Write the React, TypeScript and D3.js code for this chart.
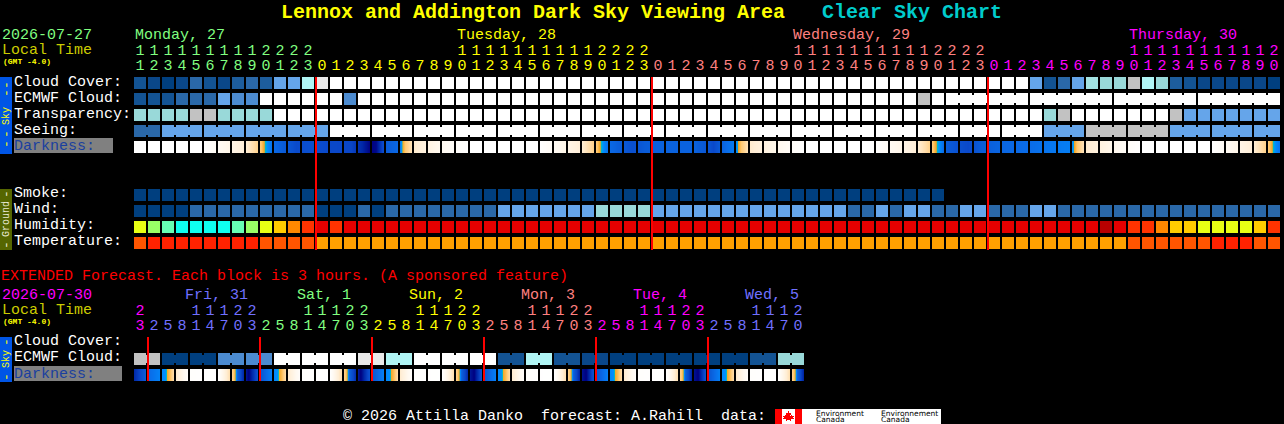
import React from "react";
import * as d3 from "d3";

// Hourly forecast, 82 blocks starting at 11:00 local. Sky values are percent-like levels.
const cloudCover = [10,5,0,5,20,10,5,15,20,15,40,40,60,85,
  100,100,100,100,100,100,100,100,100,100,100,100,100,100,100,100,100,100,100,100,100,100,100,100,100,
  100,100,100,100,100,100,100,100,100,100,100,100,100,100,100,100,100,100,100,100,100,100,100,100,100,
  40,10,20,40,55,50,50,70,60,50,15,10,5,5,5,5,5,0];
const ecmwfCloud = [10,10,10,20,20,20,40,30,30,100,100,100,100,100,100,30,
  100,100,100,100,100,100,100,100,100,100,100,100,100,100,100,100,100,100,100,100,100,100,100,100,
  100,100,100,100,100,100,100,100,100,100,100,100,100,100,100,100,70,
  100,100,100,100,100,100,100,100,100,100,100,100,100,100,100,100,100,100,100,100,100,100,100,100,100];
const transparency = [50,50,50,50,70,70,50,50,50,50,
  100,100,100,100,100,100,100,100,100,100,100,100,100,100,100,100,100,100,100,100,100,100,100,100,100,
  100,100,100,100,100,100,100,100,100,100,100,100,100,100,100,100,100,100,100,100,100,100,100,100,100,100,100,100,100,100,
  50,70,100,100,100,100,100,100,100,70,40,40,40,40,40,40,40];
const seeing = [20,20,40,40,40,40,40,40,40,40,40,40,40,40,
  100,100,100,100,100,100,100,100,100,100,100,100,100,100,100,100,100,100,100,100,100,100,100,100,100,
  100,100,100,100,100,100,100,100,100,100,100,100,100,100,100,100,100,100,100,100,100,100,100,100,100,100,
  40,40,40,70,70,70,70,70,70,40,40,40,40,40,40,40,40];
const smoke = [0,0,0,0,0,0,0,0,0,0,0,0,0,0,0,0,0,0,0,0,0,0,0,0,0,0,0,0,0,
  0,0,0,0,0,0,0,0,0,0,0,0,0,0,0,0,0,0,0,0,0,0,0,0,0,0,0,0,0];
const wind = [0,0,0,0,20,20,20,20,20,20,20,20,20,0,0,0,20,0,20,20,20,20,20,20,20,20,
  40,40,40,40,40,40,40,50,50,50,50,40,40,40,40,40,40,40,40,40,40,40,40,40,40,
  20,20,40,20,40,40,20,20,40,40,20,20,20,40,40,20,20,20,20,20,20,20,20,20,20,20,20,20,20,20,20];
const humidity = [55,50,45,40,40,40,40,45,50,55,60,65,70,80,70,
  80,80,80,80,80,80,80,80,80,80,80,80,80,80,80,80,80,80,80,80,80,80,80,80,80,80,80,
  80,80,80,80,80,80,80,80,80,80,80,80,80,80,80,80,80,80,80,80,80,80,80,80,80,80,80,
  95,80,70,70,65,60,60,55,55,55,55,60,70];
const temperature = [27,30,30,30,30,30,30,30,30,27,27,27,27,
  23,23,23,23,23,23,23,23,23,23,23,23,23,23,23,23,23,23,23,23,23,23,23,23,23,23,23,23,23,23,23,23,
  23,23,23,23,23,23,23,23,23,23,23,23,23,23,23,23,23,23,23,23,23,23,23,23,23,23,
  27,27,27,27,27,27,30,30,30,27,27];

// Darkness as limiting magnitude, sampled at fractional block positions.
const darkTimes = [0,4.9,6,7,8,8.9,9.3,9.36,9.42,9.6,10,11,11.6,12.5,14,15.5,16.3,16.9,17.3,18,18.95,19.12,19.2,19.6,20,21,22,23,24,
  28.9,30,31,32,32.9,33.3,33.36,33.42,33.6,34,35,35.6,36.5,38,40,41,41.4,42,42.95,43.1,43.18,43.6,44,45,46,47,48,
  52.9,54,55,56,56.9,57.3,57.36,57.42,57.6,58,59,59.6,60.5,62,64,65.5,66.95,67.1,67.18,67.6,68,69,70,71,72,
  76.9,78,79,80,80.9,81.3,81.36,81.42,81.6,82];
const darkMags = [-4,-4,-3.3,-2.7,-2,-0.4,0.5,0.8,1.2,1.8,2.6,3.2,3.8,3.6,3.9,4,5,6,5.8,3,2.6,1.4,0.5,-0.6,-1.8,-2.5,-3.2,-3.7,-4,
  -4,-3.3,-2.7,-2,-0.4,0.5,0.8,1.2,1.8,2.6,3.1,3.6,3,2.8,2.8,3.3,3.9,2.8,2,1.4,0.5,-0.6,-1.8,-2.4,-3,-3.6,-4,
  -4,-3.3,-2.7,-2,-0.4,0.5,0.8,1.2,1.8,3,3.6,3.9,3,2.7,2.5,2.2,2,1.4,0.5,-0.6,-1.8,-2.4,-3,-3.6,-4,
  -4,-3.3,-2.7,-2,-0.4,0.5,0.8,1.2,1.8,2.6];

// Extended darkness, one block is 3 hours.
const extDarkTimes = [0,0.5,1,1.95,2.28,2.36,2.6,3,3.9,6,6.9,7.2,7.28,7.36,7.8,8.2,8.8,9.95,10.28,10.36,10.6,11,11.9,14,14.9,15.2,15.28,15.36,15.8,16.2,16.8,17.95,18.28,18.36,18.6,19,19.9,22,22.9,23.2,23.28,23.36,23.9,24.3,24.8,25.95,26.28,26.36,26.6,27,27.9,30,30.9,31.2,31.28,31.36,31.9,32.3,32.8,33.95,34.28,34.36,34.6,35,35.9,38,38.9,39.2,39.28,39.36,39.9,40.3,40.8,41.95,42.28,42.36,42.6,43,43.9,46,46.9,47.2,47.28,47.36,48];
const extDarkMags = [5,3.8,2.6,1.8,1.5,0.5,0.1,-1.8,-3.8,-4,-1,0.3,0.9,2.6,4.8,6,3.6,1.8,1.5,0.5,0.1,-1.8,-3.8,-4,-1,0.3,0.9,2.6,4.6,6,3.6,1.8,1.5,0.5,0.1,-1.8,-3.8,-4,-1,0.3,0.9,2.6,5.2,6,3.6,1.8,1.5,0.5,0.1,-1.8,-3.8,-4,-1,0.3,0.9,2.6,5.4,6,3.6,1.8,1.5,0.5,0.1,-1.8,-3.8,-4,-1,0.3,0.9,2.6,5.4,6,3.6,1.8,1.5,0.5,0.1,-1.8,-3.8,-4,-1,0.3,0.9,2.6,6];

const extEcmwf = [70,70,0,0,0,0,30,30,30,30,100,100,100,100,100,100,85,85,60,60,100,100,100,100,100,100,10,10,60,60,10,10,5,5,0,0,0,0,0,0,0,0,0,0,10,10,50,50];

const dayColors = ["#80ff80", "#ffff00", "#ff8080", "#ff00ff", "#7070ff"];
const mainHours = [11,12,13,14,15,16,17,18,19,20,21,22,23,0,1,2,3,4,5,6,7,8,9,10,11,12,13,14,15,16,17,18,19,20,21,22,23,
  0,1,2,3,4,5,6,7,8,9,10,11,12,13,14,15,16,17,18,19,20,21,22,23,0,1,2,3,4,5,6,7,8,9,10,11,12,13,14,15,16,17,18,19,20];
const extHours = [23,2,5,8,11,14,17,20,23,2,5,8,11,14,17,20,23,2,5,8,11,14,17,20,23,2,5,8,11,14,17,20,23,2,5,8,11,14,17,20,23,2,5,8,11,14,17,20];
const mainDayLabels = ["Monday, 27", "Tuesday, 28", "Wednesday, 29", "Thursday, 30"];
const mainDayCols = [0, 23, 47, 71];
const mainDayStarts = [0, 13, 37, 61];
const extDayLabels = ["Fri, 31", "Sat, 1", "Sun, 2", "Mon, 3", "Tue, 4", "Wed, 5"];
const extDayColors = ["#7070ff", "#80ff80", "#ffff00", "#ff8080", "#ff00ff", "#7070ff"];
const extMidnights = [1, 9, 17, 25, 33, 41];

const skyLevels = [0,5,10,15,20,30,40,50,55,60,70,85,100];
const skyColors = ["#003f7f","#0a4789","#135393","#1d5d9d","#2a68a8","#4c8bd0","#65a5ea","#99d9d9","#a3e3e3","#b0f5f5","#c2c2c2","#e9e9e9","#ffffff"];
const humidityLevels = [40,45,50,55,60,65,70,80,95];
const humidityColors = ["#0ffff0","#66ffb3","#99ff66","#e8ff14","#ffcc00","#ff8800","#ff3300","#e60000","#b80000"];
const tempLevels = [23,27,30];
const tempColors = ["#ffa000","#ff5500","#ff2200"];
const darkDomain = [-4,-3,-2,-1,0,0.5,1,1.5,2.5,3,4,5,6];
const darkRange = ["#ffffff","#fff8ee","#ffeed6","#ffdca8","#ffc870","#f5a623","#00b8c8","#0090ff","#0a6ce8","#0a5cd8","#0a46c8","#0028a8","#000080"];

const FONT = "'Liberation Mono', monospace";
const skyColor = d3.scaleOrdinal<number, string>().domain(skyLevels).range(skyColors);
const humidityColor = d3.scaleOrdinal<number, string>().domain(humidityLevels).range(humidityColors);
const tempColor = d3.scaleOrdinal<number, string>().domain(tempLevels).range(tempColors);
const darkColor = d3.scaleLinear<string>().domain(darkDomain).range(darkRange);

const xMain = d3.scaleBand<number>().domain(d3.range(82)).range([134, 1280]).paddingInner(1 / 7);
const xExt = d3.scaleBand<number>().domain(d3.range(48)).range([134, 804]).paddingInner(1 / 7);

interface RowProps {
  values: number[];
  y: number;
  x: d3.ScaleBand<number>;
  color: (v: number) => string;
  joined?: (c: number) => boolean;
}

// One row of blocks; joined neighbours get a narrow bridge, which leaves the small notches
function Row({ values, y, x, color, joined }: RowProps) {
  const w = x.bandwidth();
  return (
    <g>
      {values.map((v, c) => (
        <rect key={c} x={x(c)} y={y} width={w} height={12} fill={color(v)} />
      ))}
      {values.map((v, c) =>
        joined && c < values.length - 1 && joined(c) ? (
          <rect key={c} x={(x(c) as number) + w} y={y + 2} width={x.step() - w} height={8} fill={color(v)} />
        ) : null
      )}
    </g>
  );
}

function DarkRow({ x, y, times, mags, count }: { x: d3.ScaleBand<number>; y: number; times: number[]; mags: number[]; count: number }) {
  const mag = d3.scaleLinear().domain(times).range(mags).clamp(true);
  const px = d3.range(12);
  return (
    <g>
      {d3.range(count).map((c) =>
        px.map((p) => (
          <rect key={`${c}-${p}`} x={Math.round(x(c) as number) + p} y={y} width={1} height={12} fill={darkColor(mag(c + (p + 0.5) / 14))} />
        ))
      )}
    </g>
  );
}

function Label({ x, y, children, fill = "#fff", size = 15, weight }: { x: number; y: number; children: React.ReactNode; fill?: string; size?: number; weight?: string }) {
  return (
    <text x={x} y={y} fill={fill} fontSize={size} fontWeight={weight} fontFamily={FONT} style={{ whiteSpace: "pre" }}>
      {children}
    </text>
  );
}

function SideBar({ y, height, fill, text, textFill, textY, dashes }: { y: number; height: number; fill: string; text: string; textFill: string; textY: number; dashes: number[] }) {
  return (
    <g>
      <rect x={0} y={y} width={12} height={height} fill={fill} />
      {dashes.map((d) => (
        <text key={d} transform={`translate(9.5,${d}) rotate(-90)`} textAnchor="middle" fontSize={13} fontFamily={FONT} fill={textFill}>-</text>
      ))}
      <text transform={`translate(9,${textY}) rotate(-90)`} textAnchor="middle" fontSize={10} fontFamily={FONT} fill={textFill}>{text}</text>
    </g>
  );
}

function HourLabels({ hours, x, y, color }: { hours: number[]; x: d3.ScaleBand<number>; y: number; color: (c: number) => string }) {
  const mid = x.bandwidth() / 2;
  return (
    <g fontFamily={FONT} fontSize={15} textAnchor="middle">
      {hours.map((h, c) => (
        <g key={c} fill={color(c)}>
          {h >= 10 && <text x={(x(c) as number) + mid} y={y}>{Math.floor(h / 10)}</text>}
          <text x={(x(c) as number) + mid} y={y + 15}>{h % 10}</text>
        </g>
      ))}
    </g>
  );
}

export default function App() {
  const mainDayIndex = (c: number) => d3.bisectRight(mainDayStarts, c) - 1;
  const extColor = (c: number) => (c === 0 ? "#ff00ff" : extDayColors[Math.floor((c - 1) / 8)]);
  const seeingJoin = (c: number) => (c - 1) % 3 !== 0;
  const ecmwfJoin = (c: number) => c >= 58 && (c - 57) % 6 !== 0;
  const extJoin = (c: number) => c % 2 === 0;

  return (
    <svg width={1284} height={424} shapeRendering="crispEdges" style={{ position: "fixed", left: 0, top: 0, background: "#000" }}>
      <Label x={281} y={18} fill="#ffff00" size={20} weight="bold">Lennox and Addington Dark Sky Viewing Area</Label>
      <Label x={822} y={18} fill="#00cccc" size={20} weight="bold">Clear Sky Chart</Label>

      <Label x={2} y={39} fill="#80ff80">2026-07-27</Label>
      <Label x={2} y={54} fill="#cccc00">Local Time</Label>
      <Label x={3} y={64} fill="#ffff00" size={8} weight="bold">(GMT -4.0)</Label>
      {mainDayLabels.map((d, i) => (
        <Label key={d} x={xMain(mainDayCols[i])! + 1} y={39} fill={dayColors[i]}>{d}</Label>
      ))}
      <HourLabels hours={mainHours} x={xMain} y={55} color={(c) => dayColors[mainDayIndex(c)]} />

      <SideBar y={77} height={77} fill="#0055e6" text="Sky" textFill="#ffff00" textY={116} dashes={[85, 93, 134, 144]} />
      <Label x={14} y={86}>Cloud Cover:</Label>
      <Label x={14} y={102}>ECMWF Cloud:</Label>
      <Label x={14} y={118}>Transparency:</Label>
      <Label x={14} y={134}>Seeing:</Label>
      <rect x={14} y={138} width={99} height={15} fill="#808080" />
      <Label x={14} y={150} fill="#1a3f9f">Darkness:</Label>

      <Row values={cloudCover} y={77} x={xMain} color={skyColor} />
      <Row values={ecmwfCloud} y={93} x={xMain} color={skyColor} joined={ecmwfJoin} />
      <Row values={transparency} y={109} x={xMain} color={skyColor} />
      <Row values={seeing} y={125} x={xMain} color={skyColor} joined={seeingJoin} />
      <DarkRow x={xMain} y={141} times={darkTimes} mags={darkMags} count={82} />

      <SideBar y={189} height={61} fill="#556600" text="Ground" textFill="#e8e8d0" textY={219} dashes={[194, 245]} />
      <Label x={14} y={197}>Smoke:</Label>
      <Label x={14} y={213}>Wind:</Label>
      <Label x={14} y={229}>Humidity:</Label>
      <Label x={14} y={245}>Temperature:</Label>
      <Row values={smoke} y={189} x={xMain} color={skyColor} />
      <Row values={wind} y={205} x={xMain} color={skyColor} />
      <Row values={humidity} y={221} x={xMain} color={humidityColor} />
      <Row values={temperature} y={237} x={xMain} color={tempColor} />

      {mainDayStarts.slice(1).map((c) => (
        <rect key={c} x={Math.round(xMain(c)!) - 1} y={77} width={2} height={173} fill="#ff0000" />
      ))}

      <Label x={1} y={280} fill="#ff0000">EXTENDED Forecast. Each block is 3 hours. (A sponsored feature)</Label>
      <Label x={2} y={299} fill="#ff00ff">2026-07-30</Label>
      <Label x={2} y={314} fill="#cccc00">Local Time</Label>
      <Label x={3} y={324} fill="#ffff00" size={8} weight="bold">(GMT -4.0)</Label>
      {extDayLabels.map((d, i) => (
        <Label key={d} x={xExt(extMidnights[i])! + 37} y={299} fill={extDayColors[i]}>{d}</Label>
      ))}
      <HourLabels hours={extHours} x={xExt} y={315} color={extColor} />

      <SideBar y={337} height={45} fill="#0055e6" text="Sky" textFill="#ffff00" textY={359} dashes={[342, 377]} />
      <Label x={14} y={345}>Cloud Cover:</Label>
      <Label x={14} y={361}>ECMWF Cloud:</Label>
      <rect x={14} y={366} width={108} height={15} fill="#808080" />
      <Label x={14} y={378} fill="#1a3f9f">Darkness:</Label>
      <Row values={extEcmwf} y={353} x={xExt} color={skyColor} joined={extJoin} />
      <DarkRow x={xExt} y={369} times={extDarkTimes} mags={extDarkMags} count={48} />
      {extMidnights.map((c) => (
        <rect key={c} x={Math.round(xExt(c)!) - 1} y={337} width={2} height={44} fill="#ff0000" />
      ))}

      <Label x={343} y={420}>{"© 2026 Attilla Danko  forecast: A.Rahill  data:"}</Label>
      <rect x={775} y={409} width={166} height={15} fill="#fff" />
      <rect x={775} y={409} width={7} height={15} fill="#ff0000" />
      <rect x={795} y={409} width={7} height={15} fill="#ff0000" />
      <path d="M788.5 411l1 2 1.5-.5-.5 3 1.5-.5.5 1 1.5-.2-1 2 .6.8-2.6 1-.2 1-2-.2h-.6l-2 .2-.2-1-2.6-1 .6-.8-1-2 1.5.2.5-1 1.5.5-.5-3 1.5.5z" fill="#ff0000" />
      <g fontFamily="'DejaVu Sans', sans-serif" fontSize={7.5} fill="#000">
        <text x={816} y={415.5}>Environment</text>
        <text x={816} y={422}>Canada</text>
        <text x={881} y={415.5}>Environnement</text>
        <text x={881} y={422}>Canada</text>
      </g>
    </svg>
  );
}
